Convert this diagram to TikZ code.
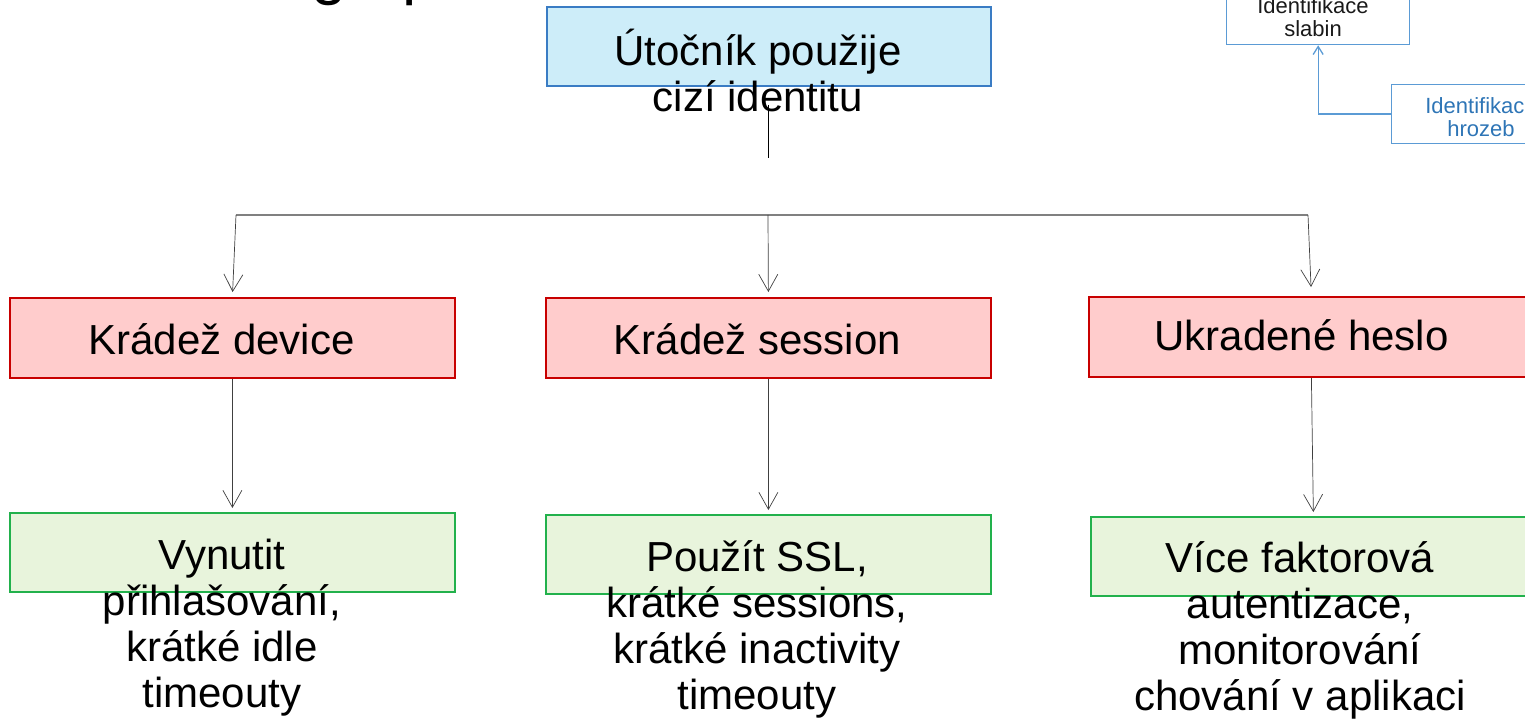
\documentclass[tikz,border=0pt]{standalone}
\usepackage{fontspec}
\setmainfont{Liberation Sans}
\usetikzlibrary{arrows.meta}
\definecolor{idfill}{RGB}{205,237,249}
\definecolor{idline}{RGB}{58,124,196}
\definecolor{thfill}{RGB}{255,204,204}
\definecolor{thline}{RGB}{200,0,0}
\definecolor{fxfill}{RGB}{232,244,220}
\definecolor{fxline}{RGB}{34,177,76}
\definecolor{smline}{RGB}{91,155,213}
\definecolor{smtext}{RGB}{46,117,182}
\definecolor{connc}{RGB}{64,64,64}
\definecolor{barc}{RGB}{128,128,128}
% invisible strut fixing the top of the first line of a text block
\newcommand\firstline[1]{\rule{0pt}{#1}}

\begin{document}
\begin{tikzpicture}[x=1pt,y=-1pt,
  panel/.style={draw, rectangle, inner sep=0pt, anchor=north west, line width=1.8pt,
                minimum width=445pt, minimum height=80pt},
  goalbox/.style={panel, fill=idfill, draw=idline, minimum width=444pt, minimum height=79pt},
  threatbox/.style={panel, fill=thfill, draw=thline},
  fixbox/.style={panel, fill=fxfill, draw=fxline, minimum height=79pt},
  bigtext/.style={inner sep=0pt, align=center, font=\fontsize{42}{46}\selectfont},
  smallbox/.style={draw=smline, line width=1.3pt, rectangle, inner sep=0pt, anchor=north west},
  smalltext/.style={inner sep=0pt, align=center, anchor=north, font=\fontsize{22}{23.5}\selectfont},
  titlefrag/.style={inner sep=0pt, anchor=base west, font=\fontsize{64}{64}\selectfont},
  conn/.style={draw=connc, line width=0.7pt, -{Straight Barb[length=17pt,width=19pt]}},
  bar/.style={draw=barc, line width=2pt},
  stem/.style={draw=black, line width=1pt},
  smconn/.style={draw=smline, line width=1.3pt, -{Straight Barb[length=8pt,width=10pt]}}
]
\useasboundingbox (0,0) rectangle (1525,719);

% heading fragments at the top edge
\node[titlefrag] (titleg) at (311,-7) {g};
\node[titlefrag] (titlep) at (402,-7) {p};

% small side diagram in the upper right corner
\node[smallbox, minimum width=183pt, minimum height=74pt] (weak) at (1226,-30) {};
\node[smalltext, text=black!90] (weaktxt) at (1313,-9) {\firstline{22pt}Identifikace\\slabin};
\node[smallbox, minimum width=180pt, minimum height=59pt] (threat) at (1391,84) {};
\node[smalltext, text=smtext] (threattxt) at (1481,91) {\firstline{22pt}Identifikace\\hrozeb};
\draw[smconn] (threat.west) -| (weak.south);

% goal
\node[goalbox] (goal) at (546,6) {};
\node[bigtext, anchor=north] (goaltxt) at (758,23) {\firstline{42pt}Útočník použije\\cizí identitu};

% threats
\node[threatbox] (t1) at (9,297) {};
\node[threatbox] (t2) at (545,297) {};
\node[threatbox] (t3) at (1088,296) {};
\node[bigtext, anchor=base] (t1txt) at (221.5,354) {Krádež device};
\node[bigtext, anchor=base] (t2txt) at (757.5,354) {Krádež session};
\node[bigtext, anchor=base] (t3txt) at (1301.5,350) {Ukradené heslo};

% countermeasures
\node[fixbox] (f1) at (9,512) {};
\node[fixbox] (f2) at (545,514) {};
\node[fixbox] (f3) at (1090,516) {};
\node[bigtext, anchor=north] (f1txt) at (222,527)
  {\firstline{42pt}Vynutit\\přihlašování,\\krátké idle\\timeouty};
\node[bigtext, anchor=north] (f2txt) at (757,529)
  {\firstline{42pt}Použít SSL,\\krátké sessions,\\krátké inactivity\\timeouty};
\node[bigtext, anchor=north] (f3txt) at (1300,530)
  {\firstline{42pt}Více faktorová\\autentizace,\\monitorování\\chování v aplikaci};

% connectors
\coordinate (stemtop) at (768,105);
\coordinate (stembot) at (768,158);
\draw[stem] (stemtop) -- (stembot);

\coordinate (bl) at (236,215);
\coordinate (bm) at (768,215);
\coordinate (br) at (1308,215);
\draw[bar] (bl) -- (br);

\draw[conn, shorten >=5pt] (bl) -- (t1.north);
\draw[conn, shorten >=5pt] (bm) -- (t2.north);
\draw[conn, shorten >=9pt] (br) -- (t3.north);

\draw[conn, shorten >=4pt] (t1.south) -- (f1.north);
\draw[conn, shorten >=4pt] (t2.south) -- (f2.north);
\draw[conn, shorten >=4pt] (t3.south) -- (f3.north);
\end{tikzpicture}
\end{document}
